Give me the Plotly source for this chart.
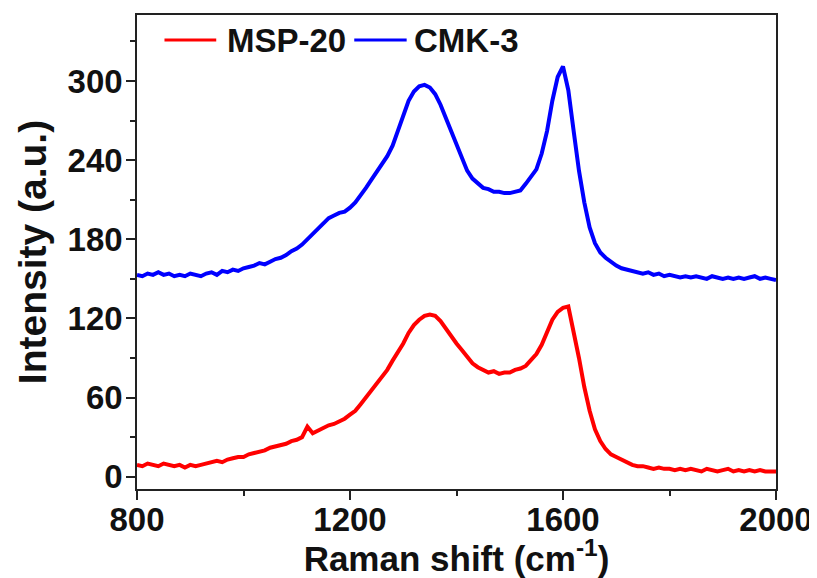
import plotly.graph_objects as go

raman_shift = list(range(800, 2001, 10))

cmk3 = [153, 152, 154, 153, 155, 153, 154, 152, 153, 152,
        154, 153, 152, 154, 155, 153, 156, 155, 157, 156,
        158, 159, 160, 162, 161, 163, 165, 166, 168, 171,
        173, 176, 180, 183, 187, 191, 196, 198, 200, 201,
        204, 208, 213, 219, 225, 231, 236, 243, 251, 262,
        275, 285, 292, 296, 297, 295, 290, 282, 272, 262,
        250, 240, 232, 226, 222, 219, 218, 216, 216, 215,
        215, 216, 217, 222, 227, 233, 245, 262, 285, 303,
        311, 293, 262, 232, 208, 189, 177, 170, 166, 163,
        160, 158, 157, 156, 155, 154, 155, 153, 154, 152,
        153, 152, 151, 152, 151, 152, 151, 150, 152, 151,
        150, 151, 150, 151, 150, 151, 152, 150, 151, 150,
        149]

msp20 = [9, 8, 10, 9, 8, 10, 9, 8, 9, 7,
         9, 8, 9, 10, 11, 12, 11, 13, 14, 15,
         15, 17, 18, 19, 20, 22, 23, 24, 25, 27,
         28, 30, 38, 33, 35, 37, 39, 40, 42, 44,
         47, 50, 55, 60, 65, 70, 75, 81, 88, 94,
         101, 109, 115, 119, 122, 123, 122, 118, 112, 106,
         101, 96, 91, 86, 83, 81, 79, 80, 78, 79,
         79, 81, 82, 84, 88, 93, 100, 110, 119, 125,
         128, 129, 110, 90, 68, 50, 36, 27, 21, 17,
         15, 13, 11, 9, 8, 8, 7, 6, 7, 6,
         6, 5, 6, 5, 6, 5, 4, 6, 5, 4,
         5, 6, 4, 5, 4, 5, 4, 5, 4, 4,
         4]

series_names = ["MSP-20", "CMK-3"]
series_colors = ["#FF0000", "#0000FF"]

x_ticks = [800, 1200, 1600, 2000]
y_ticks = [0, 60, 120, 180, 240, 300]

FONT = "Liberation Sans, Arial, sans-serif"

fig = go.Figure()
for name, vals, col in zip(series_names, [msp20, cmk3], series_colors):
    fig.add_trace(go.Scatter(x=raman_shift, y=vals, mode="lines", name=name,
                             line=dict(color=col, width=4), showlegend=False))

axis_common = dict(
    showline=True, linecolor="#222222", linewidth=1.5, mirror=True,
    showgrid=False, zeroline=False, automargin=False,
    ticks="outside", ticklen=9, tickwidth=1.5, tickcolor="#222222",
    tickfont=dict(family=FONT, size=33, color="#111111", weight="bold"),
)

fig.update_xaxes(
    range=[800, 2000], tickvals=x_ticks, ticklabelstandoff=-8,
    minor=dict(dtick=200, ticklen=5, tickwidth=1.5, tickcolor="#222222", ticks="outside"),
    title=dict(text="Raman shift (cm<sup>-1</sup>)", standoff=12,
               font=dict(family=FONT, size=35, color="#111111", weight="bold")),
    **axis_common)
fig.update_yaxes(
    range=[-9.3, 350], tickvals=y_ticks, ticklabelstandoff=-3,
    minor=dict(dtick=30, ticklen=5, tickwidth=1.5, tickcolor="#222222", ticks="outside"),
    title=dict(text="Intensity (a.u.)", standoff=9,
               font=dict(family=FONT, size=39, color="#111111", weight="bold")),
    **axis_common)

# legend drawn as line samples + text (longer samples than plotly's built-in legend)
legend_items = [  # (line x0, line x1, text x) in paper fraction
    (0.043, 0.124, 0.138),
    (0.340, 0.422, 0.431),
]
leg_y = 0.947
for (x0, x1, xt), name, col in zip(legend_items, series_names, series_colors):
    fig.add_shape(type="line", xref="paper", yref="paper", x0=x0, x1=x1, y0=leg_y, y1=leg_y,
                  line=dict(color=col, width=3))
    fig.add_annotation(xref="paper", yref="paper", x=xt, y=leg_y, text=name, showarrow=False,
                       xanchor="left", yanchor="middle",
                       font=dict(family=FONT, size=33, color="#111111", weight="bold"))

# page body has an 8 px margin, so the figure is sized/offset to land the
# plot area at the reference position
fig.update_layout(
    width=809, height=570,
    margin=dict(l=129, r=41, t=7, b=89),
    paper_bgcolor="white", plot_bgcolor="white",
    showlegend=False,
)

fig.write_html("out.html")
